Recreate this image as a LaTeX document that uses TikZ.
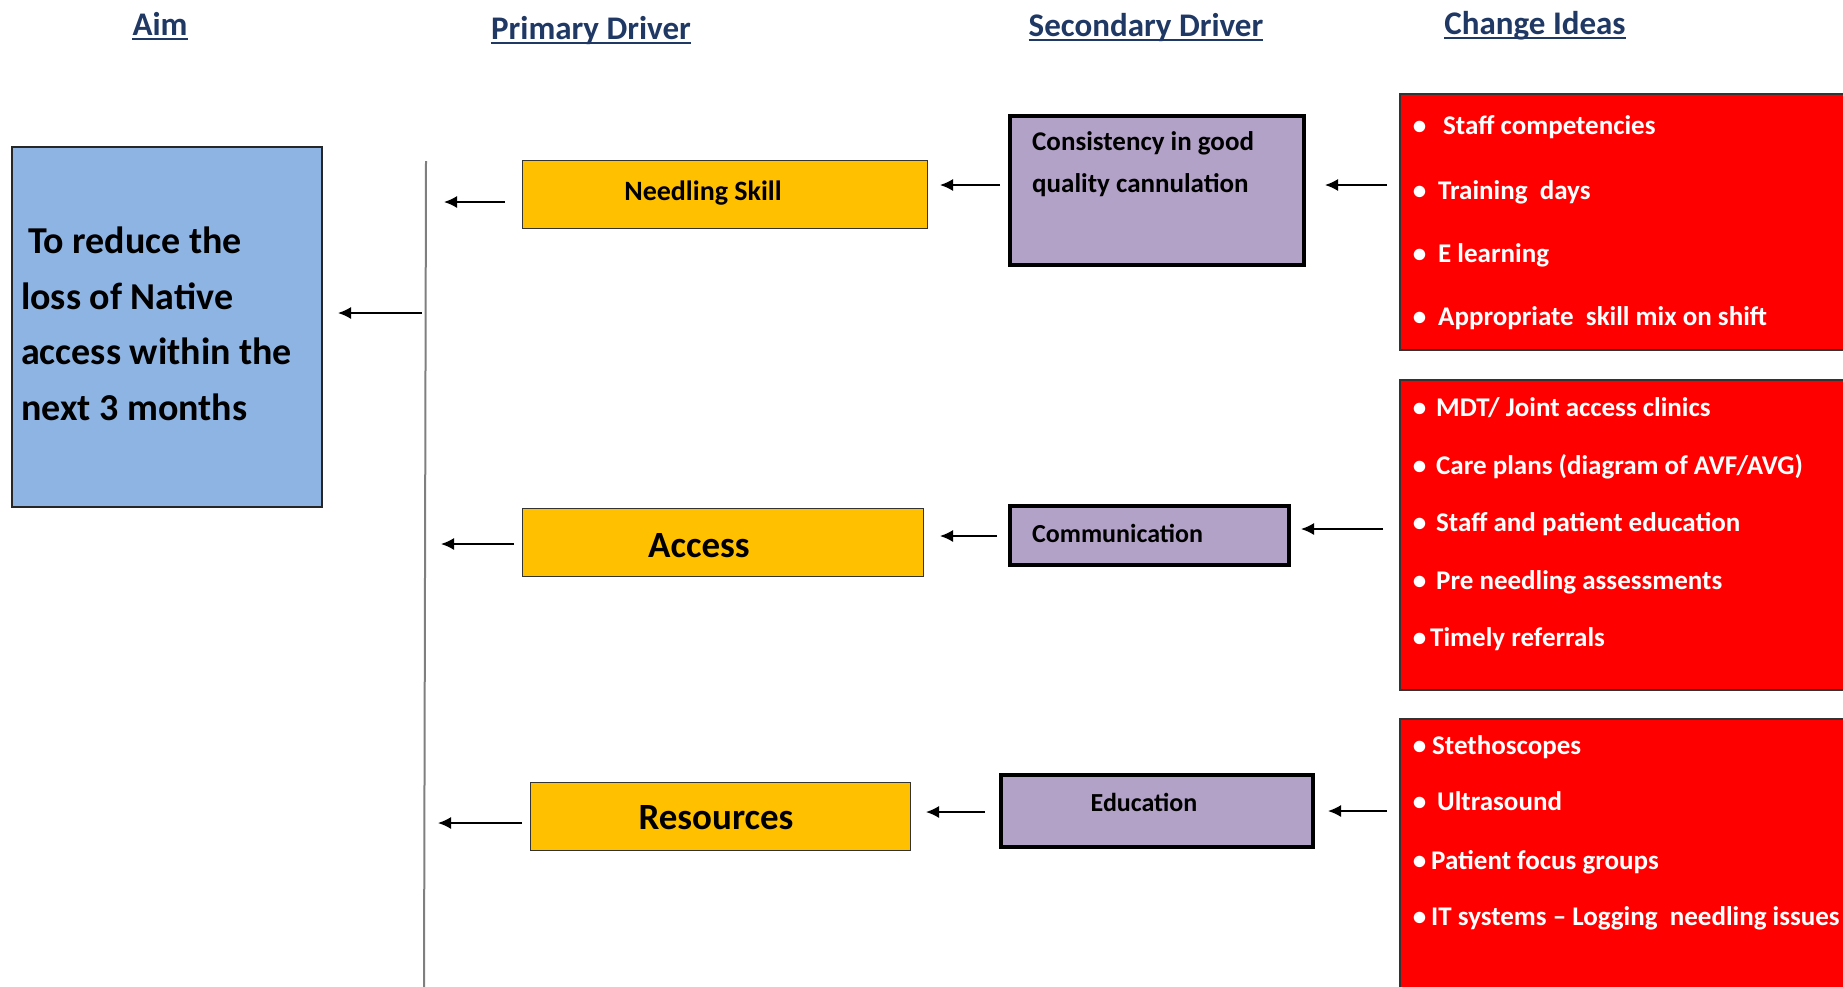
\documentclass[tikz,border=0pt]{standalone}
\usepackage{fontspec}
\setmainfont{Carlito}
\usetikzlibrary{arrows.meta,calc}
\definecolor{aimblue}{HTML}{8EB4E3}
\definecolor{primgold}{HTML}{FFC000}
\definecolor{seclilac}{HTML}{B3A2C7}
\definecolor{chred}{HTML}{FF0000}
\definecolor{hdrnavy}{HTML}{1F3864}
\definecolor{vgray}{HTML}{7F7F7F}
\newcommand{\bul}[1]{\llap{\textbullet\hspace{#1pt}}}
\begin{document}
\begin{tikzpicture}[x=1pt,y=-1pt,
  hdr/.style={font=\fontsize{33}{40}\selectfont\bfseries, text=hdrnavy, anchor=base, inner sep=0pt},
  hline/.style={draw=hdrnavy, line width=2pt},
  aimbox/.style={draw=black!85, line width=1.5pt, fill=aimblue, anchor=north west, inner sep=0pt, outer sep=0pt},
  aimtxt/.style={font=\fontsize{38}{55.5}\selectfont\bfseries, anchor=base west, align=left, inner sep=0pt},
  primbox/.style={draw=black!80, line width=1pt, fill=primgold, anchor=north west, inner sep=0pt, outer sep=0pt},
  primtxt/.style={font=\fontsize{37}{44}\selectfont\bfseries, anchor=base, inner sep=0pt},
  secbox/.style={draw=black, line width=4pt, fill=seclilac, anchor=north west, inner sep=0pt, outer sep=0pt},
  sectxt/.style={font=\fontsize{26}{32}\selectfont\bfseries, inner sep=0pt},
  ideabox/.style={draw=black!80, line width=1.5pt, fill=chred, anchor=north west, inner sep=0pt, outer sep=0pt},
  item/.style={font=\fontsize{27}{32}\selectfont\bfseries, text=white, anchor=base west, inner sep=0pt},
  vline/.style={draw=vgray, line width=2pt},
  arr/.style={-{Latex[length=13pt,width=12pt]}, line width=1.6pt}
]
\useasboundingbox (0,0) rectangle (1843,986);

% headers
\node[hdr] (hAim) at (160,35) {Aim};
\node[hdr] (hPrim) at (591,39) {Primary Driver};
\node[hdr] (hSec) at (1146,36) {Secondary Driver};
\node[hdr] (hChg) at (1535,34) {Change Ideas};
\foreach \h in {hAim,hPrim,hSec,hChg}
  \draw[hline] ([yshift=-4pt]\h.base west) -- ([yshift=-4pt]\h.base east);

% aim
\node[aimbox, minimum width=310pt, minimum height=360pt] (aim) at (12,147) {};
\node[aimtxt] (aimt) at (21,420) {\hspace*{7pt}To reduce the\\loss of Native\\access within the\\next 3 months};

% vertical line
\coordinate (vtop) at (426,161);
\coordinate (vbot) at (424,990);
\draw[vline] (vtop) -- (vbot);

% primary drivers
\node[primbox, minimum width=405pt, minimum height=68pt] (ns) at (522,160) {};
\node[primtxt, font=\fontsize{28}{34}\selectfont\bfseries] (nst) at (703,200) {Needling Skill};
\node[primbox, minimum width=401pt, minimum height=68pt] (acc) at (522,508) {};
\node[primtxt] (acct) at (699,557) {Access};
\node[primbox, minimum width=380pt, minimum height=68pt] (res) at (530,782) {};
\node[primtxt] (rest) at (716,829) {Resources};

% secondary drivers
\node[secbox, minimum width=294pt, minimum height=149pt] (cons) at (1010,116) {};
\node[sectxt, font=\fontsize{27}{32}\selectfont\bfseries, anchor=base west] (c1) at (1032,150) {Consistency in good};
\node[sectxt, font=\fontsize{27}{32}\selectfont\bfseries, anchor=base west] (c2) at (1032,192) {quality cannulation};
\node[secbox, minimum width=279pt, minimum height=59pt] (comm) at (1010,506) {};
\node[sectxt, anchor=base west] (commt) at (1032,542) {Communication};
\node[secbox, minimum width=312pt, minimum height=72pt] (edu) at (1001,775) {};
\node[sectxt, anchor=base] (edut) at (1144,811) {Education};

% change ideas
\node[ideabox, minimum width=450pt, minimum height=256pt] (ci1) at (1400,94) {};
\node[item] (i11) at (1443,134) {\bul{17}Staff competencies};
\node[item] (i12) at (1438,199) {\bul{12}Training\ \ days};
\node[item] (i13) at (1438,262) {\bul{12}E learning};
\node[item] (i14) at (1438,325) {\bul{12}Appropriate\ \ skill mix on shift};

\node[ideabox, minimum width=450pt, minimum height=310pt] (ci2) at (1400,380) {};
\node[item] (i21) at (1436,416) {\bul{10}MDT/ Joint access clinics};
\node[item] (i22) at (1436,474) {\bul{10}Care plans (diagram of AVF/AVG)};
\node[item] (i23) at (1436,531) {\bul{10}Staff and patient education};
\node[item] (i24) at (1436,589) {\bul{10}Pre needling assessments};
\node[item] (i25) at (1430,646) {\bul{4}Timely referrals};

\node[ideabox, minimum width=450pt, minimum height=280pt] (ci3) at (1400,719) {};
\node[item] (i31) at (1432,754) {\bul{6}Stethoscopes};
\node[item] (i32) at (1437,810) {\bul{11}Ultrasound};
\node[item] (i33) at (1431,869) {\bul{5}Patient focus groups};
\node[item] (i34) at (1431,925) {\bul{5}IT systems -- Logging\ \ needling issues};

% arrows: change ideas -> secondary
\draw[arr, shorten <=13pt, shorten >=21pt] (ci1.west |- 0,185) -- (cons.east |- 0,185);
\draw[arr, shorten <=17pt, shorten >=12pt] (ci2.west |- 0,529) -- (comm.east |- 0,529);
\draw[arr, shorten <=13pt, shorten >=15pt] (ci3.west |- 0,811) -- (edu.east |- 0,811);

% arrows: secondary -> primary
\draw[arr, shorten <=10pt, shorten >=13pt] (cons.west |- 0,185) -- (ns.east |- 0,185);
\draw[arr, shorten <=13pt, shorten >=17pt] (comm.west |- 0,536) -- (acc.east |- 0,536);
\draw[arr, shorten <=16pt, shorten >=16pt] (edu.west |- 0,812) -- (res.east |- 0,812);

% arrows: primary -> line
\draw[arr, shorten <=17pt, shorten >=18pt] (ns.west |- 0,202) -- (vtop |- 0,202);
\draw[arr, shorten <=8pt, shorten >=15pt] (acc.west |- 0,544) -- (vtop |- 0,544);
\draw[arr, shorten <=8pt, shorten >=12pt] (res.west |- 0,823) -- (vtop |- 0,823);

% arrow: line -> aim
\draw[arr, shorten <=4pt, shorten >=16pt] (vtop |- 0,313) -- (aim.east |- 0,313);
\end{tikzpicture}
\end{document}
